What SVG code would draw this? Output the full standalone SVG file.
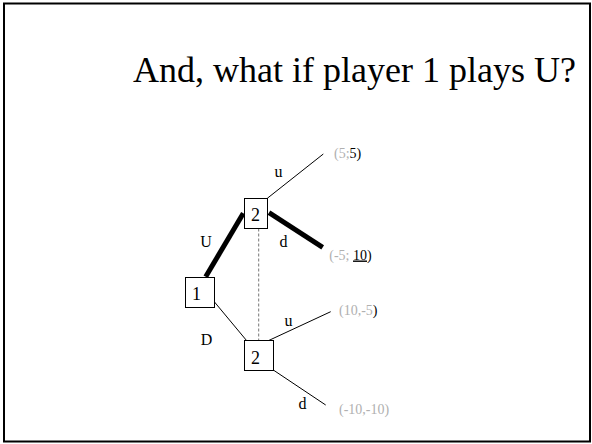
<svg xmlns="http://www.w3.org/2000/svg" width="592" height="444" viewBox="0 0 592 444">
<style>
text{font-family:"Liberation Serif","Times New Roman",serif;fill:#000}
.t{font-size:36px}
.l{font-size:16px;text-anchor:middle}
.n{font-size:18px;text-anchor:middle}
.p{font-size:14px}
.g{fill:#b0b0b0}
.box{fill:#fff;stroke:#000;stroke-width:1}
.thin{stroke:#000;stroke-width:1;fill:none}
.thick{stroke:#000;stroke-width:5;fill:none}
.dash{stroke:#777;stroke-width:1;stroke-dasharray:3,2;fill:none}
</style>
<rect x="4" y="3.5" width="586" height="438" fill="#fff" stroke="#000" stroke-width="2"/>
<text class="t" x="576" y="82" text-anchor="end">And, what if player 1 plays U?</text>
<g id="connectors">
<line class="thick" x1="205.7" y1="276.7" x2="243.3" y2="213.3"/>
<line class="thin" x1="267.3" y1="198.3" x2="323.3" y2="154"/>
<line class="thick" x1="269" y1="212.7" x2="322.7" y2="247.3"/>
<line class="dash" x1="258.7" y1="228.5" x2="258.7" y2="340.5"/>
<line class="thin" x1="214.5" y1="302" x2="246.7" y2="340.7"/>
<line class="thin" x1="268.3" y1="340.7" x2="330.7" y2="311.7"/>
<line class="thin" x1="273.3" y1="370" x2="325.7" y2="405"/>
<text class="l" x="278.5" y="177">u</text>
<text class="l" x="206" y="247">U</text>
<text class="l" x="283.5" y="247">d</text>
<text class="l" x="288.5" y="325.5">u</text>
<text class="l" x="206.5" y="345">D</text>
<text class="l" x="302.5" y="409">d</text>
</g>
<g id="node-top2">
<rect class="box" x="244.5" y="198.5" width="23" height="30"/>
<text class="n" x="255.5" y="221">2</text>
</g>
<g id="node-1">
<rect class="box" x="185.5" y="277.5" width="29" height="30"/>
<text class="n" x="196.5" y="300">1</text>
</g>
<g id="node-bot2">
<rect class="box" x="244.5" y="340.5" width="29" height="30"/>
<text class="n" x="255.5" y="364">2</text>
</g>
<g id="payoffs">
<text class="p" x="334" y="157.5"><tspan class="g">(5;</tspan>5)</text>
<text class="p" x="329.3" y="259.5"><tspan class="g">(-5; </tspan><tspan text-decoration="underline">10</tspan>)</text>
<text class="p" x="339" y="314.5"><tspan class="g">(10,-5</tspan>)</text>
<text class="p g" x="339" y="413.5">(-10,-10)</text>
</g>
</svg>
